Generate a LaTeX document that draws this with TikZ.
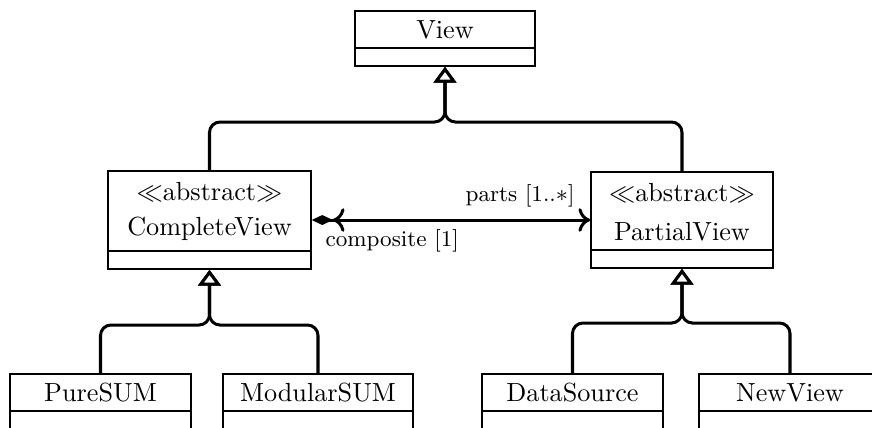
\documentclass[tikz,border=0pt]{standalone}
\usepackage{fontspec}
\usetikzlibrary{arrows.meta}
\newcommand\pxu{0.3817pt}
\begin{document}
\begin{tikzpicture}[x=0.3817pt,y=-0.3817pt,
  classbox/.style={draw, line width=0.6pt, rectangle, inner sep=0pt},
  splitline/.style={line width=0.6pt},
  ctext/.style={inner sep=0pt, font=\normalsize},
  gen/.style={line width=1.15pt, rounded corners=4pt, -{Triangle[open,fill=white,length=6pt,width=8.5pt]}},
  assoc/.style={line width=1.15pt, {Diamond[length=8pt,width=3.8pt]To[length=4.5pt,width=9pt]}-{To[length=4.5pt,width=9pt]}},
  lbl/.style={inner sep=0pt, font=\fontsize{8.6}{10}\selectfont}]
\useasboundingbox (0,0) rectangle (872,427);
\clip (0,0) rectangle (872,427);
% classes
\node[classbox, minimum width=180*\pxu, minimum height=55*\pxu] (view) at (445,38.5) {};
\draw[splitline] (355,48) -- (535,48);
\node[ctext] (viewname) at (445,29.5) {View};

\node[classbox, minimum width=203*\pxu, minimum height=98*\pxu] (cv) at (209.5,220) {};
\draw[splitline] (108,251) -- (311,251);
\node[ctext] (cvst) at (209.5,192) {$\ll$abstract$\gg$};
\node[ctext] (cvname) at (209.5,229) {CompleteView};

\node[classbox, minimum width=182*\pxu, minimum height=96*\pxu] (pv) at (682,220) {};
\draw[splitline] (591,250) -- (773,250);
\node[ctext] (pvst) at (682,193) {$\ll$abstract$\gg$};
\node[ctext] (pvname) at (682,232) {PartialView};

\node[classbox, minimum width=181*\pxu, minimum height=71*\pxu] (pure) at (100.5,409.5) {};
\draw[splitline] (10,411) -- (191,411);
\node[ctext] (purename) at (100.5,392.5) {PureSUM};

\node[classbox, minimum width=190*\pxu, minimum height=71*\pxu] (mod) at (318,409.5) {};
\draw[splitline] (223,411) -- (413,411);
\node[ctext] (modname) at (318,392.5) {ModularSUM};

\node[classbox, minimum width=181*\pxu, minimum height=71*\pxu] (ds) at (572.5,409.5) {};
\draw[splitline] (482,411) -- (663,411);
\node[ctext] (dsname) at (572.5,392.5) {DataSource};

\node[classbox, minimum width=182*\pxu, minimum height=71*\pxu] (nv) at (790,409.5) {};
\draw[splitline] (699,411) -- (881,411);
\node[ctext] (nvname) at (790,392.5) {NewView};

% generalizations
\coordinate (j0) at (445,122);
\draw[gen] (cv.north) |- (j0) -- (view.south);
\draw[gen] (pv.north) |- (j0) -- (view.south);
\coordinate (j1) at (209.5,325);
\draw[gen] (pure.north) |- (j1) -- (cv.south);
\draw[gen] (mod.north) |- (j1) -- (cv.south);
\coordinate (j2) at (682,323);
\draw[gen] (ds.north) |- (j2) -- (pv.south);
\draw[gen] (nv.north) |- (j2) -- (pv.south);

% composition
\draw[assoc] (cv.east) -- (cv.east -| pv.west);
\node[lbl, anchor=east] (parts) at (575,196) {parts [1..$\ast$]};
\node[lbl, anchor=west] (comp) at (325,241) {composite [1]};
\end{tikzpicture}
\end{document}
